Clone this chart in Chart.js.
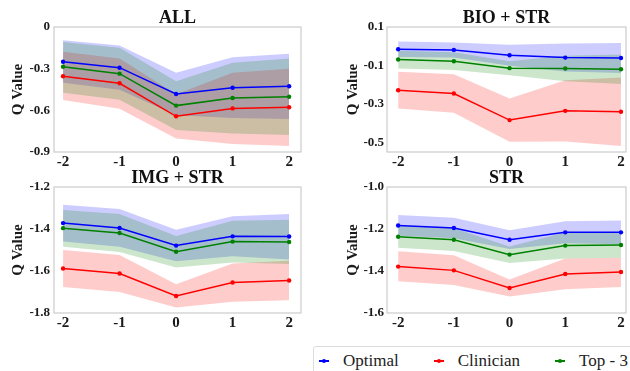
<!DOCTYPE html>
<html>
<head>
<meta charset="utf-8">
<script src="https://cdn.jsdelivr.net/npm/chart.js@4"></script>
<style>
    body { margin: 0; background: #fff; width: 630px; height: 371px; overflow: hidden; position: relative; }
    canvas { position: absolute; }
    #legend {
        position: absolute; left: 313px; top: 346px; width: 330px; height: 40px;
        border: 1px solid #dcdcdc; border-radius: 3px; box-sizing: border-box;
        display: flex; align-items: flex-start; padding-left: 5px; padding-top: 2px;
        font-family: "Liberation Serif", "Times New Roman", serif; font-size: 17px; color: #222;
        white-space: nowrap;
    }
    .item { display: flex; align-items: center; margin-right: 35px; height: 24px; }
    .mark { position: relative; width: 10px; height: 1.5px; margin-right: 14px; }
    .mark i { position: absolute; left: 3px; top: -1.5px; width: 4px; height: 4px; border-radius: 2px; }
</style>
</head>
<body>
<canvas id="c_all" width="315" height="170" style="left:0;top:0"></canvas>
<canvas id="c_bio" width="315" height="170" style="left:315px;top:0"></canvas>
<canvas id="c_img" width="315" height="170" style="left:0;top:170px"></canvas>
<canvas id="c_str" width="315" height="170" style="left:315px;top:170px"></canvas>
<div id="legend"></div>
<script>
"use strict"

const steps = [-2, -1, 0, 1, 2]
const series_names = ["Optimal", "Clinician", "Top - 3"]
const series_colors = ["#0000ff", "#ff0000", "#008000"]
const band_colors = ["rgba(0,0,255,0.2)", "rgba(255,0,0,0.2)", "rgba(0,128,0,0.2)"]

// ALL
const all_yticks = [0, -0.3, -0.6, -0.9]
const all_ylabels = ["0", "-0.3", "-0.6", "-0.9"]
const all_opt = [-0.250, -0.293, -0.482, -0.437, -0.427]
const all_opt_hi = [-0.096, -0.134, -0.329, -0.218, -0.192]
const all_opt_lo = [-0.401, -0.451, -0.636, -0.655, -0.662]
const all_cli = [-0.355, -0.405, -0.643, -0.586, -0.578]
const all_cli_hi = [-0.178, -0.226, -0.485, -0.329, -0.300]
const all_cli_lo = [-0.526, -0.588, -0.802, -0.842, -0.857]
const all_top = [-0.286, -0.336, -0.566, -0.511, -0.502]
const all_top_hi = [-0.108, -0.149, -0.391, -0.257, -0.226]
const all_top_lo = [-0.473, -0.523, -0.742, -0.766, -0.778]

// BIO + STR
const bio_yticks = [0.1, -0.1, -0.3, -0.5]
const bio_ylabels = ["0.1", "-0.1", "-0.3", "-0.5"]
const bio_opt = [-0.016, -0.019, -0.047, -0.059, -0.061]
const bio_opt_hi = [0.024, 0.020, 0.008, 0.014, 0.017]
const bio_opt_lo = [-0.056, -0.059, -0.102, -0.132, -0.139]
const bio_cli = [-0.229, -0.246, -0.384, -0.336, -0.341]
const bio_cli_hi = [-0.133, -0.146, -0.272, -0.177, -0.163]
const bio_cli_lo = [-0.324, -0.346, -0.497, -0.495, -0.519]
const bio_top = [-0.069, -0.078, -0.114, -0.116, -0.120]
const bio_top_hi = [-0.023, -0.031, -0.078, -0.050, -0.043]
const bio_top_lo = [-0.116, -0.124, -0.151, -0.182, -0.196]

// IMG + STR
const img_yticks = [-1.2, -1.4, -1.6, -1.8]
const img_ylabels = ["-1.2", "-1.4", "-1.6", "-1.8"]
const img_opt = [-1.372, -1.395, -1.479, -1.435, -1.436]
const img_opt_hi = [-1.285, -1.305, -1.404, -1.339, -1.328]
const img_opt_lo = [-1.460, -1.484, -1.554, -1.530, -1.545]
const img_cli = [-1.588, -1.612, -1.719, -1.655, -1.645]
const img_cli_hi = [-1.500, -1.524, -1.663, -1.564, -1.551]
const img_cli_lo = [-1.676, -1.700, -1.774, -1.747, -1.739]
const img_top = [-1.396, -1.419, -1.508, -1.460, -1.462]
const img_top_hi = [-1.309, -1.328, -1.433, -1.361, -1.356]
const img_top_lo = [-1.484, -1.510, -1.583, -1.559, -1.567]

// STR
const str_yticks = [-1.0, -1.2, -1.4, -1.6]
const str_ylabels = ["-1.0", "-1.2", "-1.4", "-1.6"]
const str_opt = [-1.183, -1.195, -1.251, -1.216, -1.216]
const str_opt_hi = [-1.133, -1.146, -1.206, -1.163, -1.159]
const str_opt_lo = [-1.232, -1.244, -1.295, -1.268, -1.273]
const str_cli = [-1.379, -1.397, -1.481, -1.414, -1.405]
const str_cli_hi = [-1.306, -1.325, -1.440, -1.341, -1.337]
const str_cli_lo = [-1.449, -1.467, -1.521, -1.487, -1.476]
const str_top = [-1.237, -1.251, -1.322, -1.279, -1.276]
const str_top_hi = [-1.184, -1.197, -1.283, -1.217, -1.216]
const str_top_lo = [-1.289, -1.305, -1.362, -1.341, -1.337]

const SERIF = "'Liberation Serif', 'Times New Roman', serif"
const INK = "#1a1a1a"

function xy(values) { return steps.map((x, i) => ({ x: x, y: values[i] })) }

// frame around the plot area, drawn over the bands like the mpl spines
const boxPlugin = {
    id: "box",
    afterDatasetsDraw(chart) {
        const { ctx, chartArea: a } = chart
        ctx.save()
        ctx.strokeStyle = "#cccccc"
        ctx.lineWidth = 1.2
        ctx.strokeRect(a.left, a.top, a.right - a.left, a.bottom - a.top)
        ctx.restore()
    }
}

function makeDatasets(means, los, his) {
    const ds = []
    means.forEach((m, k) => {
        ds.push({ data: xy(his[k]), fill: "+1", backgroundColor: band_colors[k], borderColor: "transparent", borderWidth: 0, pointRadius: 0, order: 6 - k })
        ds.push({ data: xy(los[k]), fill: false, borderColor: "transparent", borderWidth: 0, pointRadius: 0, order: 6 - k })
    })
    means.forEach((m, k) => ds.push({
        data: xy(m),
        borderColor: series_colors[k],
        backgroundColor: series_colors[k],
        borderWidth: 1.5,
        pointRadius: 2.2,
        pointBorderWidth: 0,
        fill: false,
        order: 3 - k,
    }))
    return ds
}

function panel(p) {
    new Chart(document.getElementById(p.id), {
        type: "line",
        data: { datasets: makeDatasets(p.means, p.los, p.his) },
        plugins: [boxPlugin],
        options: {
            animation: false,
            responsive: false,
            maintainAspectRatio: false,
            layout: { padding: { left: 0, right: p.padRight, top: 0, bottom: 0 } },
            elements: { line: { tension: 0 } },
            plugins: {
                legend: { display: false },
                tooltip: { enabled: false },
                title: {
                    display: true,
                    text: p.title,
                    fullSize: false,
                    color: "#111",
                    font: { family: SERIF, size: 18, weight: "bold", lineHeight: 1 },
                    padding: { top: p.titleTop, bottom: 0 },
                },
            },
            scales: {
                x: {
                    type: "linear",
                    min: p.xmin,
                    max: p.xmax,
                    grid: { display: false, drawTicks: false },
                    border: { display: false },
                    ticks: { color: INK, padding: 1, font: { family: SERIF, size: 15, weight: "bold" } },
                    afterBuildTicks: axis => axis.ticks = steps.map(v => ({ value: v })),
                    afterFit: axis => { axis.height = p.xHeight },
                },
                y: {
                    min: p.ymin,
                    max: p.ymax,
                    grid: { display: false, drawTicks: false },
                    border: { display: false },
                    title: {
                        display: true,
                        text: "Q Value",
                        color: INK,
                        font: { family: SERIF, size: 15, weight: "bold" },
                        padding: { top: p.yTitlePad, bottom: 0 },
                    },
                    ticks: {
                        color: INK,
                        padding: p.yTickPad,
                        font: { family: SERIF, size: 13, weight: "bold" },
                        callback: (v, i) => p.ylabels[i],
                    },
                    afterBuildTicks: axis => axis.ticks = p.yticks.map(v => ({ value: v })),
                    afterFit: axis => { axis.width = p.yWidth },
                },
            },
        },
    })
}

const leftCol = { padRight: 14, yWidth: 54, yTitlePad: 9, yTickPad: 4, xmin: -2.16, xmax: 2.21 }
const rightCol = { padRight: 2, yWidth: 72, yTitlePad: 29, yTickPad: 3, xmin: -2.2, xmax: 2.09 }
const topRow = { titleTop: 9, xHeight: 18 }
const botRow = { titleTop: -1, xHeight: 27 }

panel({ ...leftCol, ...topRow, id: "c_all", title: "ALL", ymin: -0.9, ymax: 0,
    yticks: all_yticks, ylabels: all_ylabels,
    means: [all_opt, all_cli, all_top], los: [all_opt_lo, all_cli_lo, all_top_lo], his: [all_opt_hi, all_cli_hi, all_top_hi] })
panel({ ...rightCol, ...topRow, id: "c_bio", title: "BIO + STR", ymin: -0.55, ymax: 0.1,
    yticks: bio_yticks, ylabels: bio_ylabels,
    means: [bio_opt, bio_cli, bio_top], los: [bio_opt_lo, bio_cli_lo, bio_top_lo], his: [bio_opt_hi, bio_cli_hi, bio_top_hi] })
panel({ ...leftCol, ...botRow, id: "c_img", title: "IMG + STR", ymin: -1.8, ymax: -1.2,
    yticks: img_yticks, ylabels: img_ylabels,
    means: [img_opt, img_cli, img_top], los: [img_opt_lo, img_cli_lo, img_top_lo], his: [img_opt_hi, img_cli_hi, img_top_hi] })
panel({ ...rightCol, ...botRow, id: "c_str", title: "STR", ymin: -1.6, ymax: -1.0,
    yticks: str_yticks, ylabels: str_ylabels,
    means: [str_opt, str_cli, str_top], los: [str_opt_lo, str_cli_lo, str_top_lo], his: [str_opt_hi, str_cli_hi, str_top_hi] })

const legend = document.getElementById("legend")
series_names.forEach((name, k) => {
    const item = document.createElement("div")
    item.className = "item"
    item.innerHTML = `<span class="mark" style="background:${series_colors[k]}"><i style="background:${series_colors[k]}"></i></span><span>${name}</span>`
    legend.appendChild(item)
})
</script>
</body>
</html>
